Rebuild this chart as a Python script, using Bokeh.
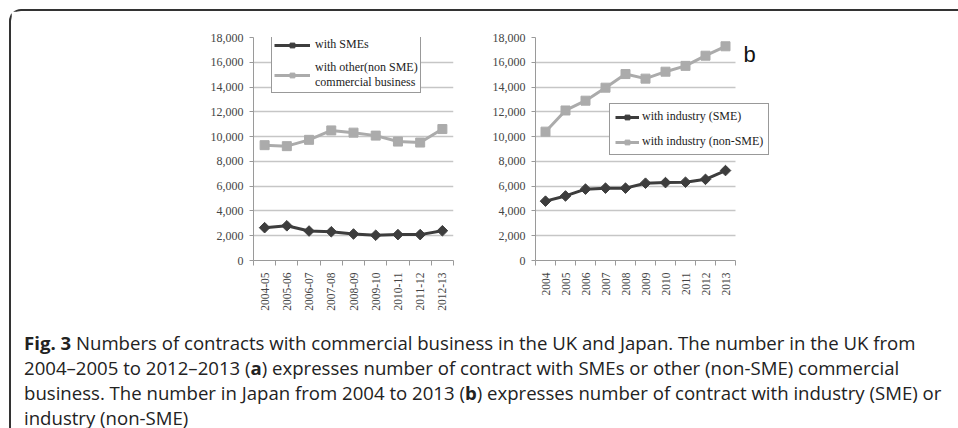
import math
from bokeh.plotting import figure
from bokeh.models import (ColumnDataSource, FixedTicker, NumeralTickFormatter,
                          Legend, LegendItem, Label, Div, Range1d)
from bokeh.layouts import column, row
from bokeh.embed import file_html
from bokeh.resources import INLINE

# ---- data ----
categories_a = ["2004-05", "2005-06", "2006-07", "2007-08", "2008-09",
                "2009-10", "2010-11", "2011-12", "2012-13"]
sme_a = [2650, 2800, 2380, 2320, 2140, 2040, 2090, 2090, 2400]
nonsme_a = [9310, 9230, 9740, 10500, 10320, 10080, 9600, 9520, 10610]

categories_b = ["2004", "2005", "2006", "2007", "2008",
                "2009", "2010", "2011", "2012", "2013"]
sme_b = [4790, 5210, 5760, 5840, 5840, 6240, 6290, 6320, 6550, 7260]
nonsme_b = [10400, 12110, 12900, 13950, 15050, 14680, 15240, 15710, 16530, 17290]

y_ticks = [0, 2000, 4000, 6000, 8000, 10000, 12000, 14000, 16000, 18000]

label_a = "a"
label_b = "b"
legend_a = ["with SMEs", "with other(non SME)\ncommercial business"]
legend_b = ["with industry (SME)", "with industry (non-SME)"]

caption_html = (
    "<b>Fig. 3</b> Numbers of contracts with commercial business in the UK and Japan. "
    "The number in the UK from<br>"
    "2004\u20132005 to 2012\u20132013 (<b>a</b>) expresses number of contract with SMEs "
    "or other (non-SME) commercial<br>"
    "business. The number in Japan from 2004 to 2013 (<b>b</b>) expresses number of "
    "contract with industry (SME) or<br>"
    "industry (non-SME)"
)

DARK = "#3d3d3d"
LIGHT = "#ababab"
GRID = "#c6c6c6"
AXIS = "#9a9a9a"
SERIF = "Liberation Serif"


def make_chart(cats, sme, nonsme, width, mb_left, mb_right, mb_top, mb_bottom, x_extra):
    n = len(cats)
    p = figure(width=width, height=318, output_backend="svg", toolbar_location=None,
               x_range=Range1d(-0.5, n - 0.5 + x_extra), y_range=Range1d(0, 18000),
               min_border_left=mb_left, min_border_right=mb_right,
               min_border_top=mb_top, min_border_bottom=mb_bottom)
    p.outline_line_color = None
    p.background_fill_color = "white"
    p.border_fill_color = "white"
    p.xgrid.grid_line_color = None
    p.ygrid.grid_line_color = GRID
    p.ygrid.grid_line_width = 1.5
    p.ygrid.ticker = FixedTicker(ticks=y_ticks)
    p.ygrid.cross_bounds = (-0.5, n - 0.5)

    ya = p.yaxis[0]
    ya.ticker = FixedTicker(ticks=y_ticks)
    ya.formatter = NumeralTickFormatter(format="0,0")
    ya.axis_line_color = AXIS
    ya.major_tick_line_color = AXIS
    ya.major_tick_in = 0
    ya.major_tick_out = 4
    ya.minor_tick_line_color = None
    ya.major_label_text_font = SERIF
    ya.major_label_text_font_size = "12px"
    ya.major_label_text_color = "#444444"
    ya.major_label_standoff = 6

    xs = list(range(n))
    xa = p.xaxis[0]
    xa.bounds = (-0.5, n - 0.5)
    xa.ticker = FixedTicker(ticks=xs, minor_ticks=[i - 0.5 for i in range(n + 1)])
    xa.major_label_overrides = {i: c for i, c in enumerate(cats)}
    xa.major_label_orientation = math.pi / 2
    xa.axis_line_color = AXIS
    xa.major_tick_line_color = None
    xa.minor_tick_line_color = AXIS
    xa.minor_tick_in = 0
    xa.minor_tick_out = 5
    xa.major_label_text_font = SERIF
    xa.major_label_text_font_size = "11.5px"
    xa.major_label_text_color = "#444444"
    xa.major_label_standoff = 6

    src = ColumnDataSource(dict(x=xs, sme=sme, nonsme=nonsme))
    l1 = p.line("x", "sme", source=src, line_color=DARK, line_width=3)
    m1 = p.scatter("x", "sme", source=src, marker="square", angle=math.pi / 4,
                   size=7.5, fill_color=DARK, line_color=DARK)
    l2 = p.line("x", "nonsme", source=src, line_color=LIGHT, line_width=3)
    m2 = p.scatter("x", "nonsme", source=src, marker="square", size=9,
                   fill_color=LIGHT, line_color=LIGHT)
    return p, (l1, m1), (l2, m2)


# chart a: frame 200px wide; chart b: data area 200px, frame extended right for the legend
pa, ra1, ra2 = make_chart(categories_a, sme_a, nonsme_a, 475, 242, 33, 26, 67, 0)
pb, rb1, rb2 = make_chart(categories_b, sme_b, nonsme_b, 465, 49, 166, 20, 69, 2.5)


def style_legend(lg, glyph_width, standoff):
    lg.border_line_color = "#333333"
    lg.border_line_width = 1
    lg.background_fill_color = "white"
    lg.background_fill_alpha = 1
    lg.label_text_font = SERIF
    lg.label_text_font_size = "12px"
    lg.label_text_color = "#222222"
    lg.glyph_width = glyph_width
    lg.glyph_height = 12
    lg.label_standoff = standoff
    lg.label_height = 12
    lg.margin = 0


lga = Legend(items=[LegendItem(label=legend_a[0], renderers=list(ra1)),
                    LegendItem(label=legend_a[1], renderers=list(ra2))],
             location=(18, 167), padding=2, spacing=8)
style_legend(lga, 36, 5)
pa.add_layout(lga)

lgb = Legend(items=[LegendItem(label=legend_b[0], renderers=list(rb1)),
                    LegendItem(label=legend_b[1], renderers=list(rb2))],
             location=(74, 105), padding=5, spacing=10)
style_legend(lgb, 24, 3)
pb.add_layout(lgb)

pa.add_layout(Label(x=8.82, y=17120, text=label_a, text_font="Liberation Sans",
                    text_font_size="22px", text_color="#111111",
                    text_baseline="alphabetic"))
pb.add_layout(Label(x=9.9, y=16664, text=label_b, text_font="Liberation Sans",
                    text_font_size="22px", text_color="#111111",
                    text_baseline="alphabetic"))

cap = Div(text=('<div style="font-family:\'Open Sans\';font-size:18.6px;line-height:25px;'
                'color:#222;padding-left:8px;margin-top:-4px;white-space:nowrap">'
                + caption_html + '</div>'),
          width=946, height=96)

layout = column(row(pa, pb), cap,
                styles={"border-left": "2px solid #333333",
                        "border-top": "2px solid #333333",
                        "border-top-left-radius": "12px",
                        "margin-left": "9px",
                        "margin-top": "9px"})

with open("out.html", "w") as f:
    f.write(file_html(layout, INLINE))
